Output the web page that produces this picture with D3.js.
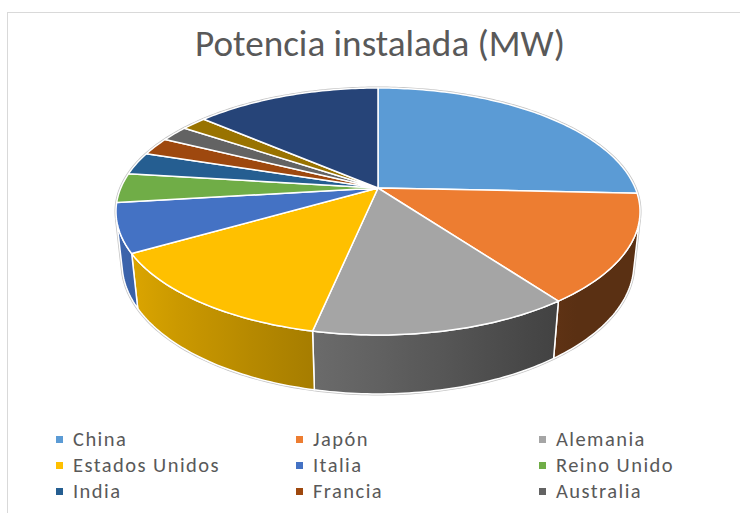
<!DOCTYPE html>
<html>
<head>
<meta charset="utf-8">
<script src="https://cdn.jsdelivr.net/npm/d3@7"></script>
<style>
  body { margin: 0; background: #fff; }
  svg { display: block; font-family: Carlito, Calibri, Lato, "Noto Sans", sans-serif; }
</style>
</head>
<body>
<div id="chart"></div>
<script>
// Potencia instalada por país (MW)
const categories = ['China', 'Japón', 'Alemania', 'Estados Unidos', 'Italia', 'Reino Unido',
  'India', 'Francia', 'Australia', 'España', 'Resto del mundo'];
const values = [77400, 42800, 40500, 40300, 19300, 11600, 9000, 7100, 6300, 5600, 41500];
const colors = ['#5B9BD5', '#ED7D31', '#A5A5A5', '#FFC000', '#4472C4', '#70AD47',
  '#255E91', '#9E480E', '#636363', '#997300', '#264478'];
const titleText = 'Potencia instalada (MW)';
const legendCount = 9; // only three legend rows fit inside the frame

const width = 740, height = 513;

const svg = d3.select('#chart').append('svg')
  .attr('width', width)
  .attr('height', height);

// chart area border (right and bottom sides run off the picture)
svg.append('rect')
  .attr('x', 7.5)
  .attr('y', 12.5)
  .attr('width', 800)
  .attr('height', 560)
  .attr('fill', '#fff')
  .attr('stroke', '#d9d9d9');

// title, fitted to the width it has in the reference
const title = svg.append('text')
  .attr('x', 380)
  .attr('y', 56)
  .attr('text-anchor', 'middle')
  .attr('fill', '#595959')
  .style('font-size', '30px')
  .text(titleText);
const tw = title.node().getComputedTextLength();
title.style('font-size', (30 * 370 / tw).toFixed(2) + 'px');

// camera looking down on a unit disc
const view = { cx: 378, cy: 188, sin: 0.4627, dist: 4.659, focal: 1198.4, thick: 0.23 };
view.cos = Math.sqrt(1 - view.sin * view.sin);

function project(theta, r, y) {
  const X = r * Math.sin(theta);
  const Z = -r * Math.cos(theta);
  const dep = view.dist - (y * view.sin + Z * view.cos);
  return [view.cx + X * view.focal / dep, view.cy + (Z * view.sin - y * view.cos) * view.focal / dep];
}

function rim(a0, a1, y) {
  const n = Math.max(2, Math.ceil((a1 - a0) / (Math.PI / 180)));
  return d3.range(n + 1).map(i => project(a0 + (a1 - a0) * i / n, 1, y));
}

// wall faces toward the camera only between these angles
const edge = Math.acos(-1 / (view.dist * view.cos));
const frontStart = edge, frontEnd = 2 * Math.PI - edge;

// side shading: lighter toward the left, darker to the right
const shade = t => Math.max(0.38, 0.586 + 0.316 * Math.cos(t - 1.5 * Math.PI));

const pie = d3.pie().sort(null).value(d => d)
  .startAngle(0).endAngle(2 * Math.PI);
const arcs = pie(values);
const line = d3.line();

const defs = svg.append('defs');
const plot = svg.append('g');

// faint outline round the whole solid
const outline = rim(frontEnd, 2 * Math.PI + frontStart, 0)
  .concat(rim(frontStart, frontEnd, -view.thick));
plot.append('path')
  .attr('d', line(outline) + 'Z')
  .attr('fill', 'none')
  .attr('stroke', '#c4c4c4')
  .attr('stroke-width', 3);

// outer walls
arcs.forEach((a, i) => {
  const a0 = Math.max(a.startAngle, frontStart);
  const a1 = Math.min(a.endAngle, frontEnd);
  if (a1 <= a0) return;
  const top = rim(a0, a1, 0);
  const bottom = rim(a0, a1, -view.thick).reverse();
  const x1 = top[0][0], x2 = top[top.length - 1][0];
  const grad = defs.append('linearGradient')
    .attr('id', 'wall' + i)
    .attr('gradientUnits', 'userSpaceOnUse')
    .attr('x1', x1).attr('x2', x2).attr('y1', 0).attr('y2', 0);
  d3.range(9).forEach(k => {
    const t = a0 + (a1 - a0) * k / 8;
    const x = project(t, 1, 0)[0];
    const c = d3.rgb(colors[i]);
    const f = shade(t);
    grad.append('stop')
      .attr('offset', ((x - x1) / (x2 - x1)).toFixed(4))
      .attr('stop-color', d3.rgb(c.r * f, c.g * f, c.b * f).formatHex());
  });
  plot.append('path')
    .attr('class', 'wall')
    .attr('d', line(top.concat(bottom)) + 'Z')
    .attr('fill', `url(#wall${i})`)
    .attr('stroke', '#fff')
    .attr('stroke-width', 1.5)
    .attr('stroke-linejoin', 'round');
});

// top faces
plot.selectAll('.slice')
  .data(arcs)
  .join('path')
  .attr('class', 'slice')
  .attr('d', a => line([[view.cx, view.cy]].concat(rim(a.startAngle, a.endAngle, 0))) + 'Z')
  .attr('fill', (a, i) => colors[i])
  .attr('stroke', '#fff')
  .attr('stroke-width', 1.5)
  .attr('stroke-linejoin', 'round');

// legend, three columns
const legendItems = categories.slice(0, legendCount);
const colX = d3.scaleOrdinal().domain([0, 1, 2]).range([56, 296, 539]);
const rowY = d3.scaleLinear().domain([0, 1]).range([446, 472]);

const legend = svg.append('g').attr('class', 'legend');
const item = legend.selectAll('g')
  .data(legendItems)
  .join('g')
  .attr('transform', (d, i) => `translate(${colX(i % 3)},${rowY(Math.floor(i / 3))})`);

item.append('rect')
  .attr('x', 0)
  .attr('y', -10)
  .attr('width', 7)
  .attr('height', 7)
  .attr('fill', (d, i) => colors[i]);

const labels = item.append('text')
  .attr('x', 17)
  .attr('y', 0)
  .attr('fill', '#595959')
  .style('font-size', '20px')
  .text(d => d);

// match the label size to the reference ("Estados Unidos" is ~147px wide),
// but keep the line boxes of the rows from running into each other;
// whatever width is still missing goes into letter spacing
const probe = labels.filter(d => d === 'Estados Unidos');
const lw = probe.node().getComputedTextLength();
labels.style('font-size', Math.min(20 * 147 / lw, 20.5).toFixed(2) + 'px');
const lw2 = probe.node().getComputedTextLength();
if (lw2 < 146) labels.style('letter-spacing', ((147 - lw2) / 14).toFixed(2) + 'px');
</script>
</body>
</html>
